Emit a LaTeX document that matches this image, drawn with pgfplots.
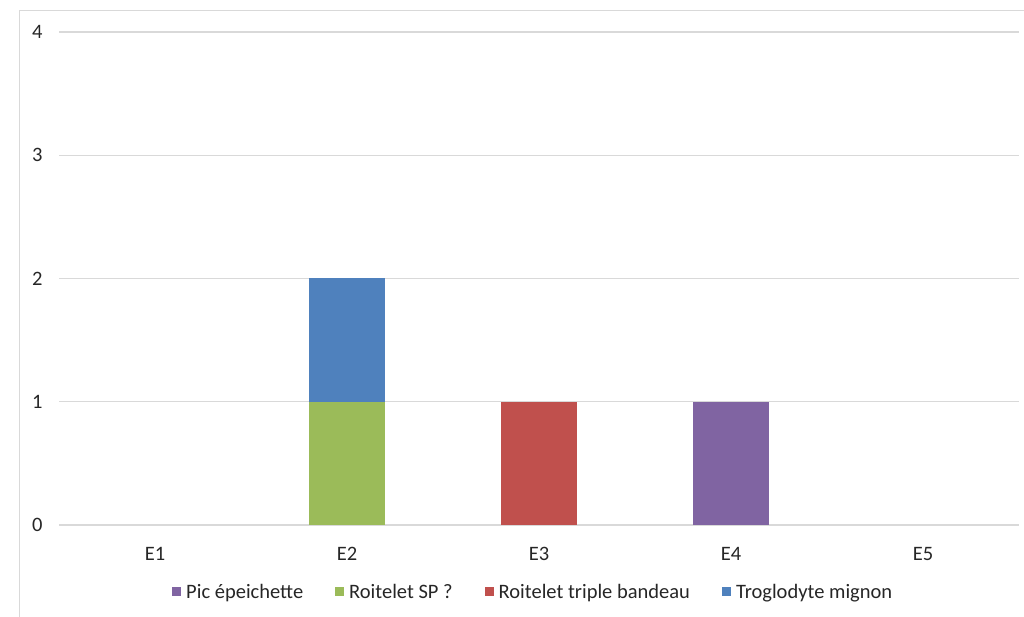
\documentclass[border=0pt]{standalone}
\usepackage{fontspec}
\setmainfont{Carlito}
\usepackage{pgfplots}
\pgfplotsset{compat=1.18}
\definecolor{picC}{HTML}{8064A2}
\definecolor{rspC}{HTML}{9BBB59}
\definecolor{rtbC}{HTML}{C0504D}
\definecolor{trgC}{HTML}{4F81BD}
\definecolor{gridC}{HTML}{D9D9D9}
\definecolor{txtC}{HTML}{262626}
\begin{document}
\begin{tikzpicture}[x=1pt,y=1pt]
\path[use as bounding box] (0,0) rectangle (1024,617);
% outer chart frame (continues past the right and bottom edges)
\draw[gridC, line width=1.6pt] (19.5,-20) -- (19.5,606.5) -- (1100,606.5);
\begin{axis}[
  at={(59pt,92pt)}, anchor=south west,
  scale only axis, width=960pt, height=493pt,
  ybar stacked, bar width=76pt,
  xmin=-0.5, xmax=4.5, ymin=0, ymax=4,
  xtick={0,1,2,3,4}, xticklabels={E1,E2,E3,E4,E5},
  ytick={0,1,2,3,4},
  ymajorgrids, major grid style={gridC, line width=1.3pt},
  axis line style={draw=none},
  major tick length=0pt,
  tick label style={font=\fontsize{20.5}{24}\selectfont, text=txtC},
  /pgf/number format/assume math mode=true,
  yticklabel style={xshift=-13pt},
  xticklabel style={yshift=-19pt},
  legend columns=4,
  legend style={at={(0.494,-0.136)}, anchor=center, draw=none, fill=none,
    font=\fontsize{20.5}{24}\selectfont, text=txtC,
    /tikz/every odd column/.append style={column sep=3pt},
    /tikz/every even column/.append style={column sep=30pt}},
  legend image code/.code={\fill[#1] (0pt,-4pt) rectangle (9pt,5pt);},
]
\addplot[fill=picC, draw=none] coordinates {(0,0) (1,0) (2,0) (3,1) (4,0)};
\addlegendentry{Pic épeichette}
\addplot[fill=rspC, draw=none] coordinates {(0,0) (1,1) (2,0) (3,0) (4,0)};
\addlegendentry{Roitelet SP ?}
\addplot[fill=rtbC, draw=none] coordinates {(0,0) (1,0) (2,1) (3,0) (4,0)};
\addlegendentry{Roitelet triple bandeau}
\addplot[fill=trgC, draw=none] coordinates {(0,0) (1,1) (2,0) (3,0) (4,0)};
\addlegendentry{Troglodyte mignon}
\end{axis}
\end{tikzpicture}
\end{document}
